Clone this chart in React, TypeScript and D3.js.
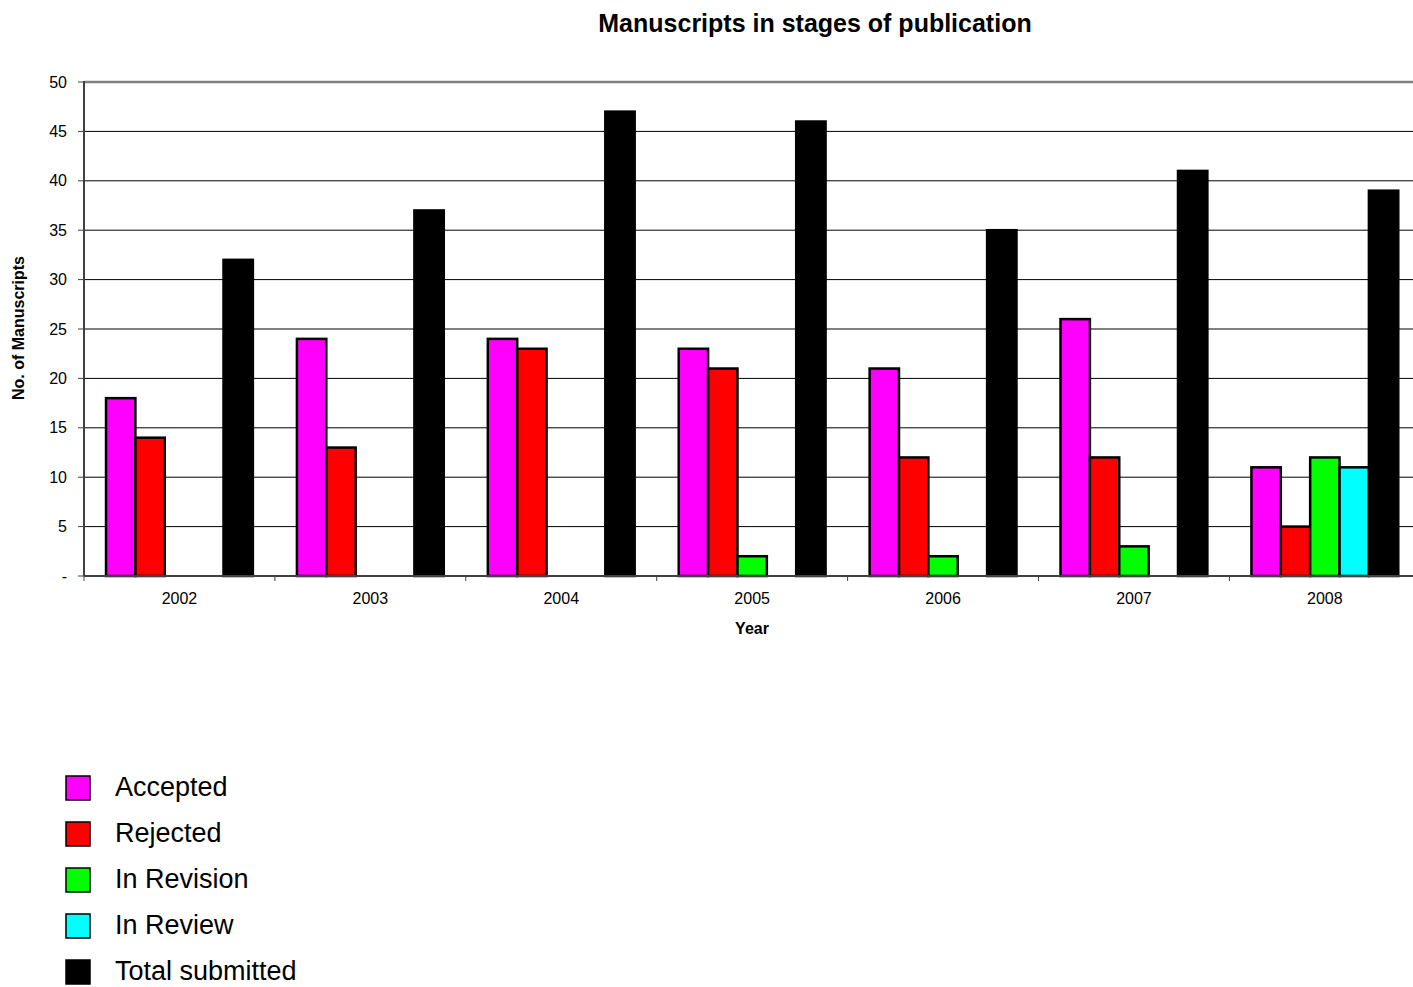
import React from "react";
import * as d3 from "d3";

const years = ["2002", "2003", "2004", "2005", "2006", "2007", "2008"];
const seriesNames = ["Accepted", "Rejected", "In Revision", "In Review", "Total submitted"];
const seriesColors = ["#ff00ff", "#ff0000", "#00ff00", "#00ffff", "#000000"];
const accepted = [18, 24, 24, 23, 21, 26, 11];
const rejected = [14, 13, 23, 21, 12, 12, 5];
const inRevision = [0, 0, 0, 2, 2, 3, 12];
const inReview = [0, 0, 0, 0, 0, 0, 11];
const totalSubmitted = [32, 37, 47, 46, 35, 41, 39];
const yTicks = [0, 5, 10, 15, 20, 25, 30, 35, 40, 45, 50];

const seriesValues = [accepted, rejected, inRevision, inReview, totalSubmitted];

export default function App() {
  const W = 1413, H = 987;
  const left = 84, top = 82, bottom = 576;
  const bandW = 190.9;
  const x = d3.scaleBand<string>().domain(years).range([left, left + bandW * years.length]).paddingInner(0).paddingOuter(0);
  const xs = d3.scaleBand<string>().domain(seriesNames).range([0, x.bandwidth()]).paddingInner(0).paddingOuter(0.75);
  const y = d3.scaleLinear().domain([0, 50]).range([bottom, top]);
  const font = "'Liberation Sans', Arial, sans-serif";
  const rightEdge = left + bandW * years.length;

  return (
    <svg width={W} height={H} style={{ position: "absolute", left: 0, top: 0, background: "#fff" }} fontFamily={font}>
      <rect x={0} y={0} width={W} height={H} fill="#fff" />
      <text x={815} y={32} textAnchor="middle" fontSize={25} fontWeight="bold">Manuscripts in stages of publication</text>
      {yTicks.filter(t => t > 0 && t < 50).map(t => (
        <line key={t} x1={left} x2={rightEdge} y1={y(t)} y2={y(t)} stroke="#000" strokeWidth={1} />
      ))}
      <line x1={left} x2={rightEdge} y1={y(50)} y2={y(50)} stroke="#808080" strokeWidth={2.5} />
      {years.map((yr, i) => (
        <g key={yr}>
          {seriesNames.map((s, j) => {
            const v = seriesValues[j][i];
            if (!v) return null;
            const bx = (x(yr) as number) + (xs(s) as number);
            return (
              <rect key={s} x={bx} y={y(v)} width={xs.bandwidth()} height={y(0) - y(v)}
                fill={seriesColors[j]} stroke="#000" strokeWidth={2.5} />
            );
          })}
        </g>
      ))}
      <line x1={left} x2={left} y1={top - 1} y2={bottom} stroke="#404040" strokeWidth={2} />
      <line x1={left} x2={rightEdge} y1={bottom} y2={bottom} stroke="#404040" strokeWidth={2} />
      {yTicks.map(t => (
        <g key={t}>
          <line x1={left - 6} x2={left} y1={y(t)} y2={y(t)} stroke="#404040" strokeWidth={1} />
          <text x={67} y={y(t) + 5.5} textAnchor="end" fontSize={16}>{t === 0 ? "-" : t}</text>
        </g>
      ))}
      {years.map((yr) => (
        <g key={yr}>
          <line x1={x(yr) as number} x2={x(yr) as number} y1={bottom} y2={bottom + 5} stroke="#404040" strokeWidth={1} />
          <text x={(x(yr) as number) + x.bandwidth() / 2} y={604} textAnchor="middle" fontSize={16}>{yr}</text>
        </g>
      ))}
      <text x={752} y={634} textAnchor="middle" fontSize={16} fontWeight="bold">Year</text>
      <text transform={`translate(24,328) rotate(-90)`} textAnchor="middle" fontSize={16} fontWeight="bold">No. of Manuscripts</text>
      {seriesNames.map((s, j) => (
        <g key={s}>
          <rect x={66} y={776 + j * 46} width={24} height={24} fill={seriesColors[j]} stroke="#000" strokeWidth={1.5} />
          <text x={115} y={796 + j * 46} fontSize={27}>{s}</text>
        </g>
      ))}
    </svg>
  );
}
